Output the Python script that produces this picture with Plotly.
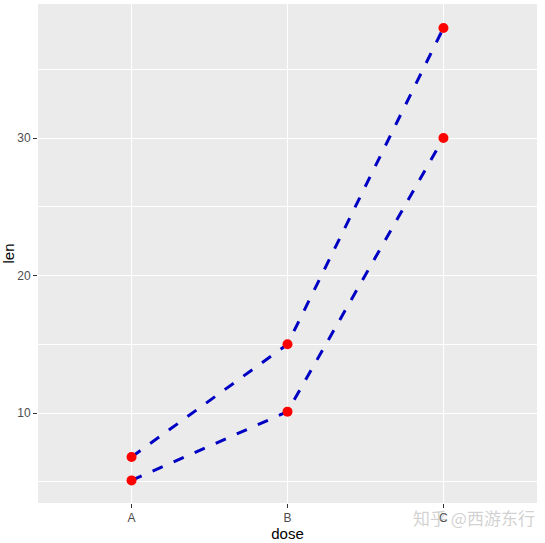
import plotly.graph_objects as go

dose = ["A", "B", "C"]
len_low = [5.1, 10.1, 30.0]
len_high = [6.8, 15.0, 38.0]

fig = go.Figure()
for vals in (len_low, len_high):
    fig.add_trace(go.Scatter(
        x=dose, y=vals, mode="lines+markers",
        line=dict(color="#0000C4", width=3, dash="11px,12px"),
        marker=dict(color="#FF0000", size=10),
        showlegend=False,
    ))

fig.update_layout(
    width=545, height=543,
    margin=dict(l=38, r=8, t=4, b=40, autoexpand=False),
    paper_bgcolor="white", plot_bgcolor="#EBEBEB",
    font=dict(family="Liberation Sans, Arial, sans-serif", size=12, color="#4D4D4D"),
    xaxis=dict(
        type="category", range=[-0.6, 2.6], automargin=False,
        showgrid=True, gridcolor="white", gridwidth=1.2,
        ticks="outside", ticklen=4, tickcolor="#333333",
        zeroline=False, showline=False,
        title=dict(text="dose", font=dict(size=15, color="black"), standoff=2),
    ),
    yaxis=dict(
        range=[3.455, 39.745], tick0=0, dtick=10, automargin=False,
        showgrid=True, gridcolor="white", gridwidth=1.2,
        minor=dict(dtick=5, tick0=0, showgrid=True, gridcolor="white", gridwidth=0.6),
        ticks="outside", ticklen=4, tickcolor="#333333",
        zeroline=False, showline=False,
        title=dict(text="len", font=dict(size=15, color="black"), standoff=2),
    ),
)

fig.add_annotation(
    text="知乎 @西游东行", xref="paper", yref="paper",
    x=0.874, y=-0.03, xanchor="center", yanchor="middle", showarrow=False,
    font=dict(family="Noto Sans CJK SC", size=17, color="rgba(170,170,170,0.55)"),
)

fig.write_html("out.html", config={"displayModeBar": False},
               post_script="document.body.style.margin='0';document.body.style.overflow='hidden';")
